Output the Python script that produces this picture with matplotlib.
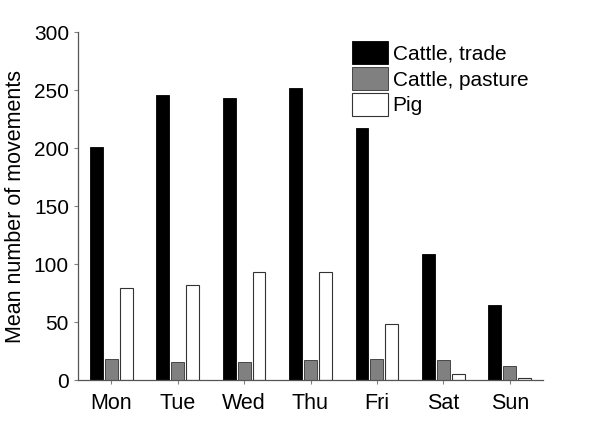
import matplotlib
matplotlib.use("Agg")
import matplotlib.pyplot as plt
import numpy as np

plt.rcParams['font.family'] = ['Liberation Sans', 'DejaVu Sans']

days = ["Mon", "Tue", "Wed", "Thu", "Fri", "Sat", "Sun"]
cattle_trade = [201, 246, 243, 252, 217, 109, 65]
cattle_pasture = [18, 15.5, 16, 17, 18.5, 17, 12.5]
pig = [79, 82, 93, 93, 48, 5, 2]
series_labels = ["Cattle, trade", "Cattle, pasture", "Pig"]
yticks = [0, 50, 100, 150, 200, 250, 300]

fig = plt.figure(figsize=(6, 4.28), dpi=100)
ax = fig.add_axes([0.13, 0.112, 0.775, 0.813])

x = np.arange(len(days))
w = 0.195
step = 0.225
ax.bar(x - step, cattle_trade, w, color='black', edgecolor='black', linewidth=0.6, label=series_labels[0])
ax.bar(x, cattle_pasture, w, color='#808080', edgecolor='#333333', linewidth=0.6, label=series_labels[1])
ax.bar(x + step, pig, w, color='white', edgecolor='#333333', linewidth=0.8, label=series_labels[2])

ax.set_xlim(-0.5, 6.5)
ax.set_ylim(0, 300)
ax.set_yticks(yticks)
ax.set_xticks(x)
ax.set_xticklabels(days, fontsize=15.5)
ax.tick_params(axis='y', labelsize=15, length=3, color='#808080', width=0.8)
ax.tick_params(axis='x', length=3, color='#808080', width=0.8, pad=6)
for s in ['top', 'right']:
    ax.spines[s].set_visible(False)
for s in ['left', 'bottom']:
    ax.spines[s].set_color('#555555')
    ax.spines[s].set_linewidth(0.9)
ax.set_ylabel("Mean number of movements", fontsize=15.5, labelpad=6)

leg = fig.legend(loc='upper left', bbox_to_anchor=(352 / 600, 1 - 41 / 428),
                 bbox_transform=fig.transFigure, frameon=False, fontsize=15,
                 handlelength=1.75, handleheight=1.35, handletextpad=0.2, labelspacing=0.12,
                 borderaxespad=0, borderpad=0)

fig.savefig("out.png", dpi=100)
